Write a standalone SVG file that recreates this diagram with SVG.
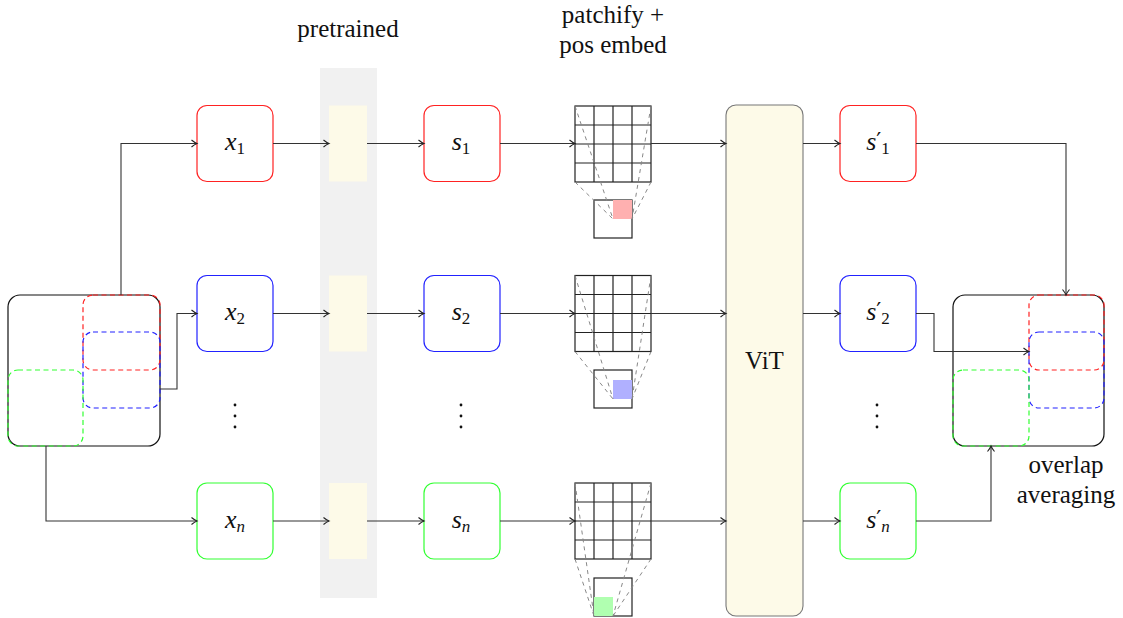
<svg xmlns="http://www.w3.org/2000/svg" width="1123" height="618" viewBox="0 0 1123 618">
<style>
text{font-family:"Liberation Serif","Times New Roman",serif;fill:#111}
.lbl{font-size:25px}
.m{font-size:26px;font-style:italic}
.sub{font-size:17px;font-style:normal}
.subi{font-size:17px;font-style:italic}
.pr{font-family:"DejaVu Sans",sans-serif;font-size:22px;font-style:normal}
.node{fill:#fff;stroke-width:1.2}
.red{stroke:#f22}
.blue{stroke:#22f}
.green{stroke:#3f3}
.pre{fill:#fdfae8}
.conn{fill:none;stroke:#333;stroke-width:1.1}
.grid{fill:#fff;stroke:#222;stroke-width:1.2}
.gl{stroke:#222;stroke-width:1.2}
.zd{stroke:#888;stroke-width:1;stroke-dasharray:4,4;fill:none}
.dr{fill:none;stroke-width:1.2;stroke-dasharray:5,3.5}
.big{fill:#fff;stroke:#111;stroke-width:1.2}
.dot{fill:#111}
</style>
<defs>
<marker id="ah" markerWidth="10" markerHeight="10" refX="7" refY="5" orient="auto" markerUnits="userSpaceOnUse">
<path d="M1.5,1.5 Q4.5,4 7,5 Q4.5,6 1.5,8.5" fill="none" stroke="#222" stroke-width="1.1"/>
</marker>
</defs>

<rect id="pretrained-band" x="320" y="68" width="57" height="530" fill="#f1f1f1"/>
<text class="lbl" x="348" y="37" text-anchor="middle">pretrained</text>
<text class="lbl" x="613" y="23" text-anchor="middle">patchify +</text>
<text class="lbl" x="613" y="53" text-anchor="middle">pos embed</text>

<g id="input-image">
<rect class="big" x="8" y="295" width="152" height="151" rx="12"/>
<rect class="dr red" x="83" y="295" width="77" height="75" rx="10"/>
<rect class="dr blue" x="83" y="332" width="77" height="76" rx="10"/>
<rect class="dr green" x="8" y="370" width="75" height="76" rx="10"/>
</g>

<g id="x1"><rect class="node red" x="197" y="105.5" width="76" height="76" rx="10"/>
<text class="m" x="235" y="150" text-anchor="middle">x<tspan class="sub" dy="4">1</tspan></text></g>
<g id="x2"><rect class="node blue" x="197" y="275.5" width="76" height="76" rx="10"/>
<text class="m" x="235" y="320" text-anchor="middle">x<tspan class="sub" dy="4">2</tspan></text></g>
<g id="xn"><rect class="node green" x="197" y="483" width="76" height="76" rx="10"/>
<text class="m" x="235" y="528" text-anchor="middle">x<tspan class="subi" dy="4">n</tspan></text></g>

<g id="pre1"><rect class="pre" x="329" y="105.5" width="38" height="76"/></g>
<g id="pre2"><rect class="pre" x="329" y="275.5" width="38" height="76"/></g>
<g id="pren"><rect class="pre" x="329" y="483" width="38" height="76"/></g>

<g id="s1"><rect class="node red" x="424" y="105.5" width="76" height="76" rx="10"/>
<text class="m" x="461" y="150" text-anchor="middle">s<tspan class="sub" dy="4">1</tspan></text></g>
<g id="s2"><rect class="node blue" x="424" y="275.5" width="76" height="76" rx="10"/>
<text class="m" x="461" y="320" text-anchor="middle">s<tspan class="sub" dy="4">2</tspan></text></g>
<g id="sn"><rect class="node green" x="424" y="483" width="76" height="76" rx="10"/>
<text class="m" x="461" y="528" text-anchor="middle">s<tspan class="subi" dy="4">n</tspan></text></g>

<g id="patch1">
<rect class="grid" x="575" y="106" width="76" height="76"/>
<path class="gl" d="M594,106V182M613,106V182M632,106V182M575,125H651M575,144H651M575,163H651"/>
<rect class="grid" x="594" y="200" width="38" height="38"/>
<rect x="613" y="200" width="19" height="19" fill="#ffb0b0"/>
<path class="zd" d="M575,106L613,219M575,182L613,219M651,106L632,219M651,182L632,219"/>
</g>
<g id="patch2">
<rect class="grid" x="575" y="275.5" width="76" height="76"/>
<path class="gl" d="M594,275.5V351.5M613,275.5V351.5M632,275.5V351.5M575,294.5H651M575,313.5H651M575,332.5H651"/>
<rect class="grid" x="594" y="370" width="38" height="38"/>
<rect x="613" y="380" width="19" height="19" fill="#b0b0ff"/>
<path class="zd" d="M575,275.5L613,399M575,351.5L613,399M651,275.5L632,399M651,351.5L632,399"/>
</g>
<g id="patchn">
<rect class="grid" x="575" y="483" width="76" height="76"/>
<path class="gl" d="M594,483V559M613,483V559M632,483V559M575,502H651M575,521H651M575,540H651"/>
<rect class="grid" x="594" y="578" width="38" height="38"/>
<rect x="594" y="597" width="19" height="19" fill="#b0ffb0"/>
<path class="zd" d="M575,483L594,616M575,559L594,616M651,483L613,616M651,559L613,616"/>
</g>

<g id="vit"><rect x="726" y="105" width="77" height="511" rx="10" fill="#fdfae8" stroke="#777" stroke-width="1.1"/>
<text class="lbl" x="764.5" y="369" text-anchor="middle">ViT</text></g>

<g id="sp1"><rect class="node red" x="840" y="105.5" width="76" height="76" rx="10"/>
<text class="m" x="878" y="150" text-anchor="middle">s<tspan class="pr" dy="-2">′</tspan><tspan class="sub" dy="6">1</tspan></text></g>
<g id="sp2"><rect class="node blue" x="840" y="275.5" width="76" height="76" rx="10"/>
<text class="m" x="878" y="320" text-anchor="middle">s<tspan class="pr" dy="-2">′</tspan><tspan class="sub" dy="6">2</tspan></text></g>
<g id="spn"><rect class="node green" x="840" y="483" width="76" height="76" rx="10"/>
<text class="m" x="878" y="528" text-anchor="middle">s<tspan class="pr" dy="-2">′</tspan><tspan class="subi" dy="6">n</tspan></text></g>

<g id="output-image">
<rect class="big" x="953" y="295" width="151" height="151" rx="12"/>
<rect class="dr red" x="1029" y="295" width="75" height="75" rx="10"/>
<rect class="dr blue" x="1029" y="332" width="75" height="76" rx="10"/>
<rect class="dr green" x="953" y="370" width="76" height="76" rx="10"/>
<text class="lbl" x="1066" y="473" text-anchor="middle">overlap</text>
<text class="lbl" x="1066" y="503" text-anchor="middle">averaging</text>
</g>

<g id="ellipses">
<circle class="dot" cx="235" cy="405" r="1.4"/><circle class="dot" cx="235" cy="416" r="1.4"/><circle class="dot" cx="235" cy="427" r="1.4"/>
<circle class="dot" cx="461" cy="405" r="1.4"/><circle class="dot" cx="461" cy="416" r="1.4"/><circle class="dot" cx="461" cy="427" r="1.4"/>
<circle class="dot" cx="877" cy="405" r="1.4"/><circle class="dot" cx="877" cy="416" r="1.4"/><circle class="dot" cx="877" cy="427" r="1.4"/>
</g>

<g id="connectors">
<path class="conn" marker-end="url(#ah)" d="M121,295V143.5H197"/>
<path class="conn" marker-end="url(#ah)" d="M160,389H177V313.5H197"/>
<path class="conn" marker-end="url(#ah)" d="M46,446V521H197"/>
<path class="conn" marker-end="url(#ah)" d="M273,143.5H329"/>
<path class="conn" marker-end="url(#ah)" d="M273,313.5H329"/>
<path class="conn" marker-end="url(#ah)" d="M273,521H329"/>
<path class="conn" marker-end="url(#ah)" d="M367,143.5H424"/>
<path class="conn" marker-end="url(#ah)" d="M367,313.5H424"/>
<path class="conn" marker-end="url(#ah)" d="M367,521H424"/>
<path class="conn" marker-end="url(#ah)" d="M500,143.5H575"/>
<path class="conn" marker-end="url(#ah)" d="M500,313.5H575"/>
<path class="conn" marker-end="url(#ah)" d="M500,521H575"/>
<path class="conn" marker-end="url(#ah)" d="M651,143.5H726"/>
<path class="conn" marker-end="url(#ah)" d="M651,313.5H726"/>
<path class="conn" marker-end="url(#ah)" d="M651,521H726"/>
<path class="conn" marker-end="url(#ah)" d="M803,143.5H840"/>
<path class="conn" marker-end="url(#ah)" d="M803,313.5H840"/>
<path class="conn" marker-end="url(#ah)" d="M803,521H840"/>
<path class="conn" marker-end="url(#ah)" d="M916,143.5H1066V295"/>
<path class="conn" marker-end="url(#ah)" d="M916,313.5H934V351.5H1029"/>
<path class="conn" marker-end="url(#ah)" d="M916,521H991V446"/>
</g>
</svg>
